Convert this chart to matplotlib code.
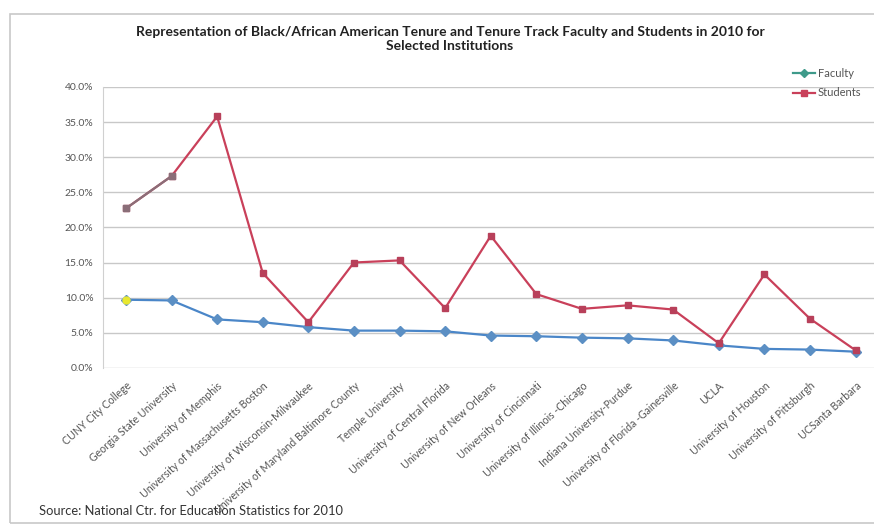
import matplotlib.pyplot as plt
from matplotlib.lines import Line2D
from matplotlib.patches import Rectangle
from matplotlib.ticker import PercentFormatter

plt.rcParams['font.family'] = ['Lato', 'DejaVu Sans']

# Data
schools = ['CUNY City College', 'Georgia State University', 'University of Memphis',
           'University of Massachusetts Boston', 'University of Wisconsin-Milwaukee',
           'University of Maryland Baltimore County', 'Temple University',
           'University of Central Florida', 'University of New Orleans',
           'University of Cincinnati', 'University of Illinois -Chicago',
           'Indiana University-Purdue', 'University of Florida -Gainesville', 'UCLA',
           'University of Houston', 'University of Pittsburgh', 'UCSanta Barbara']
faculty = [9.7, 9.6, 6.9, 6.5, 5.8, 5.3, 5.3, 5.2, 4.6, 4.5, 4.3, 4.2, 3.9, 3.2, 2.7, 2.6, 2.3]
students = [22.7, 27.3, 35.8, 13.5, 6.5, 15.0, 15.3, 8.5, 18.8, 10.5, 8.4, 8.9, 8.3, 3.5, 13.3, 7.0, 2.5]
yticks = [0, 5, 10, 15, 20, 25, 30, 35, 40]

fig = plt.figure(figsize=(8.74, 5.27), dpi=100)
ax = fig.add_axes([0.118, 0.302, 0.887, 0.533])

x = list(range(len(schools)))
ax.plot(x, faculty, color='#4A86C8', lw=1.6, marker='D', ms=5,
        mfc='#5B8FC4', mec='#5B8FC4', zorder=3)
ax.plot(x, students, color='#C9405A', lw=1.6, marker='s', ms=5,
        mfc='#B8405A', mec='#B8405A', zorder=4)
# first segments look greyish in the original
ax.plot(x[:2], students[:2], color='#8A6E78', lw=1.6, marker='s', ms=5,
        mfc='#8A6E78', mec='#8A6E78', zorder=5)
ax.plot(x[:1], faculty[:1], 'o', color='#E8E830', ms=5, zorder=6)

ax.set_xlim(-0.5, len(schools) - 0.5)
ax.set_ylim(0, 40)
ax.set_yticks(yticks)
ax.yaxis.set_major_formatter(PercentFormatter(decimals=1))
ax.grid(axis='y', color='#C8C8C8', lw=1)
ax.set_axisbelow(True)
for s in ['top', 'right', 'bottom']:
    ax.spines[s].set_visible(False)
ax.spines['left'].set_color('#D0D0D0')
ax.tick_params(axis='y', length=0, labelsize=7.5, labelcolor='#555555', pad=7)
ax.tick_params(axis='x', length=0, labelsize=7.6, labelcolor='#555555', pad=9)
ax.set_xticks(x)
ax.set_xticklabels(schools, rotation=42, ha='right', rotation_mode='anchor')

handles = [Line2D([], [], color='#3E9A8A', lw=1.6, marker='D', ms=4),
           Line2D([], [], color='#C9405A', lw=1.6, marker='s', ms=4)]
ax.legend(handles, ['Faculty', 'Students'], loc='upper left',
          bbox_to_anchor=(0.905, 0.875), bbox_transform=fig.transFigure,
          frameon=False, fontsize=8, handlelength=2.0, labelspacing=0.75,
          handletextpad=0.2, borderaxespad=0, borderpad=0.2, labelcolor='#555555')

fig.suptitle('Representation of Black/African American Tenure and Tenure Track Faculty and Students in 2010 for\nSelected Institutions',
             x=0.515, y=0.95, fontsize=10, fontweight='bold', color='#222222', linespacing=1.2)
fig.text(0.045, 0.022, 'Source: National Ctr. for Education Statistics for 2010',
         fontsize=9.3, color='#333333')

fig.patches.append(Rectangle((0.012, 0.008), 1.2, 0.965, transform=fig.transFigure,
                             fill=False, ec='#C8C8C8', lw=1.2))

fig.savefig('out.png', dpi=100)
